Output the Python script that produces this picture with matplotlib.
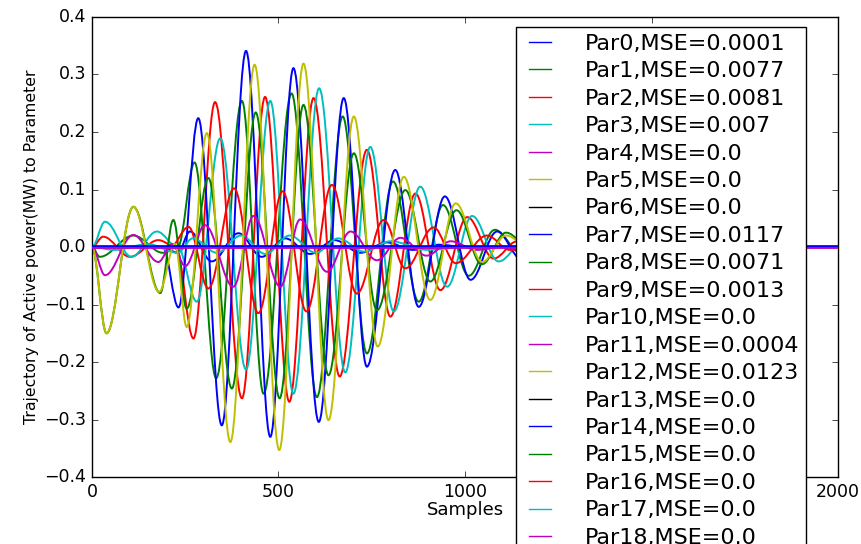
import matplotlib
matplotlib.use('Agg')
import matplotlib.pyplot as plt
from matplotlib.path import Path
from matplotlib.patches import PathPatch

# valores (amostra, potencia)
par0_x = [0, 190, 230, 263, 321, 393, 455, 518, 585, 650, 720, 790, 860, 930, 1000, 2000]
par0_y = [0, 0, -0.01, 0.027, -0.025, 0.024, -0.017, 0.015, -0.012, 0.012, -0.01, 0.008, -0.005, 0.004, 0, 0]

par1_x = [0, 21, 111, 190, 230, 275, 333, 402, 460, 535, 603, 672, 737, 807, 876, 941, 1010, 1080, 1150, 1250, 2000]
par1_y = [0, -0.017, 0.02, -0.01, 0.0, 0.147, -0.228, 0.254, -0.255, 0.267, -0.261, 0.227, -0.185, 0.114,
          -0.095, 0.073, -0.05, 0.03, -0.01, 0, 0]

par2_x = [0, 30, 102, 178, 225, 272, 330, 402, 464, 529, 594, 664, 737, 800, 867, 934, 1006, 1077, 1140, 1250, 2000]
par2_y = [0, 0.018, -0.017, 0.012, 0.0, -0.159, 0.252, -0.263, 0.261, -0.269, 0.259, -0.225, 0.169, -0.121,
          0.093, -0.075, 0.052, -0.02, 0.01, 0, 0]

par3_x = [0, 35, 106, 174, 230, 281, 344, 413, 478, 540, 609, 679, 746, 809, 880, 952, 1019, 1090, 1160, 1250, 2000]
par3_y = [0, 0.044, -0.017, 0.027, 0.0, -0.095, 0.189, -0.213, 0.254, -0.255, 0.276, -0.218, 0.174, -0.112,
          0.105, -0.069, 0.054, -0.025, 0.01, 0, 0]

par7_x = [0, 190, 232, 285, 348, 413, 478, 540, 608, 675, 737, 813, 876, 946, 1015, 1086, 1150, 1220, 1300, 2000]
par7_y = [0, 0, -0.105, 0.224, -0.31, 0.341, -0.33, 0.311, -0.304, 0.259, -0.208, 0.134, -0.104, 0.088,
          -0.057, 0.027, -0.02, 0.01, 0, 0]

par8_x = [0, 39, 111, 183, 218, 254, 312, 375, 439, 503, 567, 634, 702, 764, 840, 907, 977, 1045, 1110, 1180,
          1300, 2000]
par8_y = [0, -0.15, 0.07, -0.08, 0.047, -0.107, 0.12, -0.246, 0.234, -0.263, 0.247, -0.223, 0.163, -0.11,
          0.099, -0.06, 0.064, -0.03, 0.025, -0.005, 0, 0]

par9_x = [0, 210, 259, 312, 381, 446, 511, 575, 643, 710, 782, 840, 916, 975, 1059, 1120, 1250, 2000]
par9_y = [0, 0, 0.035, -0.072, 0.102, -0.115, 0.097, -0.112, 0.108, -0.081, 0.047, -0.037, 0.034, -0.028,
          0.02, -0.005, 0, 0]

par10_x = [0, 60, 150, 230, 270, 335, 400, 465, 530, 600, 660, 730, 800, 900, 1000, 2000]
par10_y = [0, -0.005, 0.005, -0.01, 0.015, -0.01, 0.02, -0.012, 0.02, -0.01, 0.015, -0.008, 0.01, -0.005, 0, 0]

par11_x = [0, 35, 111, 178, 215, 250, 303, 379, 433, 505, 558, 630, 693, 764, 827, 897, 962, 1030, 1100, 2000]
par11_y = [0, -0.049, 0.021, -0.026, 0.005, -0.033, 0.038, -0.069, 0.054, -0.069, 0.048, -0.043, 0.027,
           -0.023, 0.016, -0.015, 0.01, -0.005, 0, 0]

par12_x = [0, 39, 111, 180, 223, 254, 308, 371, 436, 502, 567, 634, 702, 766, 836, 907, 975, 1046, 1110, 1180,
           1300, 2000]
par12_y = [0, -0.15, 0.07, -0.078, 0.005, -0.139, 0.198, -0.339, 0.317, -0.353, 0.319, -0.301, 0.227, -0.173,
           0.122, -0.092, 0.076, -0.026, 0.02, -0.005, 0, 0]

# parametros sem trajetoria (ficam em cima do zero)
plano_x = [0, 2000]
plano_y = {14: 0.0016, 18: -0.0016}

mse = ['0.0001', '0.0077', '0.0081', '0.007', '0.0', '0.0', '0.0', '0.0117', '0.0071', '0.0013', '0.0',
       '0.0004', '0.0123', '0.0', '0.0', '0.0', '0.0', '0.0', '0.0', '0.0', '0.0']
cores = ['b', 'g', 'r', 'c', 'm', 'y', 'k']

series = {0: (par0_x, par0_y), 1: (par1_x, par1_y), 2: (par2_x, par2_y), 3: (par3_x, par3_y),
          7: (par7_x, par7_y), 8: (par8_x, par8_y), 9: (par9_x, par9_y), 10: (par10_x, par10_y),
          11: (par11_x, par11_y), 12: (par12_x, par12_y)}


def curva(xs, ys):
    # liga os pontos lidos com curvas suaves (tangente horizontal nos extremos)
    verts = [(xs[0], ys[0])]
    codes = [Path.MOVETO]
    for i in range(1, len(xs)):
        dx = xs[i] - xs[i - 1]
        verts += [(xs[i - 1] + 0.36 * dx, ys[i - 1]), (xs[i] - 0.36 * dx, ys[i]), (xs[i], ys[i])]
        codes += [Path.CURVE4] * 3
    return Path(verts, codes)


if __name__ == '__main__':
    plt.style.use('classic')
    plt.rcParams['font.family'] = 'DejaVu Sans'

    fig = plt.figure(figsize=(8.62, 5.44), dpi=100, facecolor='white')
    ax = fig.add_axes([0.1067, 0.123, 0.8655, 0.8458])

    for i in range(len(mse)):
        cor = cores[i % 7]
        if i in series:
            xs, ys = series[i]
            ordem = 2
        else:
            xs, ys = plano_x, [plano_y.get(i, 0.0)] * 2
            ordem = 3 if i in plano_y else 2.5
        ax.add_patch(PathPatch(curva(xs, ys), fill=False, edgecolor=cor, lw=1.4, zorder=ordem))
        ax.plot([], [], color=cor, lw=1.0, label='Par%d,MSE=%s' % (i, mse[i]))

    ax.set_xlim(0, 2000)
    ax.set_ylim(-0.4, 0.4)
    ax.set_xticks([0, 500, 1000, 1500, 2000])
    ax.set_yticks([-0.4, -0.3, -0.2, -0.1, 0.0, 0.1, 0.2, 0.3, 0.4])
    ax.tick_params(labelsize=12.5)
    ax.set_xlabel('Samples', fontsize=13, labelpad=0)
    ax.set_ylabel('Trajectory of Active power(MW) to Parameter', fontsize=11.3, labelpad=4)

    leg = ax.legend(loc='upper left', bbox_to_anchor=(0.568, 0.978), borderaxespad=0, fontsize=16,
                    handlelength=1.6, handletextpad=1.2, borderpad=0.3, labelspacing=0.335,
                    fancybox=False, frameon=True)
    leg.set_zorder(5)

    fig.savefig('out.png', dpi=100, facecolor='white')
